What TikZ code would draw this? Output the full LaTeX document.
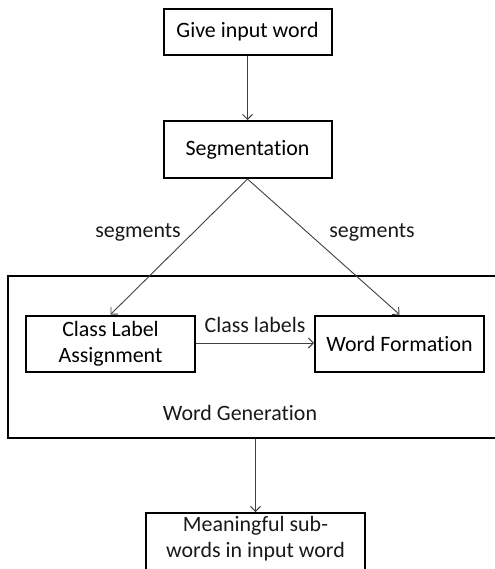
\documentclass[tikz,border=0pt]{standalone}
\usepackage{fontspec}
\setmainfont{Carlito}[Ligatures=NoCommon]
\usetikzlibrary{arrows.meta}
\begin{document}
\begin{tikzpicture}[x=1bp,y=-1bp,
  font=\fontsize{22}{26}\selectfont,
  box/.style={draw=black,line width=2bp,inner sep=0pt,align=center},
  conn/.style={draw=black!75,line width=0.9bp,-{Straight Barb[length=5bp,width=10bp,line width=0.9bp]}},
  lbl/.style={inner sep=0pt,align=center,text=black!90}]
  \useasboundingbox (0,0) rectangle (495,569);
  \clip (0,0) rectangle (495,569);

  % main flow
  \node[box,minimum width=168bp,minimum height=46bp] (give) at (247.5,32) {Give input word};
  \node[box,minimum width=168bp,minimum height=57bp] (seg) at (247.5,149.5) {Segmentation};

  % word generation block
  \node[box,minimum width=497bp,minimum height=162bp] (wg) at (256.5,357) {};
  \node[lbl] (wgtext) at (240,413) {Word Generation};
  \node[box,minimum width=169bp,minimum height=56bp] (cls) at (110.5,343.5) {Class Label\\Assignment};
  \node[box,minimum width=169bp,minimum height=56bp] (wf) at (399.5,343.5) {Word Formation};

  % output
  \node[box,minimum width=219bp,minimum height=80bp,anchor=north] (mean) at (255.5,512) {};
  \node[lbl,anchor=north] (meantext) at ([yshift=-4bp]mean.north) {Meaningful sub-\\words in input word};

  % connectors
  \draw[conn] (give.south) -- (seg.north);
  \draw[conn] (seg.south) -- (cls.north);
  \draw[conn] (seg.south) -- (wf.north);
  \draw[conn] (cls.east |- 0,343) -- (wf.west |- 0,343);
  \draw[conn] (mean.north |- wg.south) -- (mean.north);

  % connector labels
  \node[lbl] (segl) at (138,232) {segments};
  \node[lbl] (segr) at (372,232) {segments};
  \node[lbl] (clsl) at (255,325) {Class labels};
\end{tikzpicture}
\end{document}
